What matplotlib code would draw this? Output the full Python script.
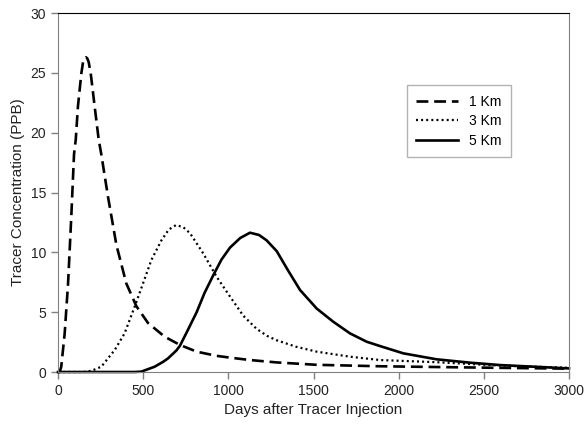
import numpy as np
import matplotlib
matplotlib.use('Agg')
import matplotlib.pyplot as plt

plt.rcParams['font.family'] = ['Liberation Sans', 'DejaVu Sans']

# 1 Km curve
days_1km = [0, 10, 19, 39, 59, 78, 94, 104, 117, 137, 147, 155, 164, 172, 180, 192, 215, 239,
            254, 294, 343, 401, 460, 528, 626, 716, 814, 931, 1010, 1127, 1284, 1519, 1890,
            2200, 2575, 3000]
conc_1km = [0, 0, 0.44, 3.2, 7.4, 13.0, 18.2, 19.4, 22.2, 24.96, 25.9, 26.2, 26.3, 26.2,
            25.9, 24.96, 22.2, 19.4, 18.2, 14.6, 10.6, 7.4, 5.5, 4.1, 2.95, 2.26, 1.7, 1.35,
            1.2, 1.0, 0.8, 0.6, 0.48, 0.42, 0.35, 0.28]

# 3 Km curve
days_3km = [0, 150, 196, 254, 333, 391, 450, 499, 548, 607, 650, 693, 735, 775, 853, 931,
            1010, 1088, 1166, 1230, 1284, 1400, 1519, 1714, 1890, 2223, 2575, 3000]
conc_3km = [0, 0, 0.1, 0.44, 1.84, 3.23, 5.46, 7.4, 9.36, 11.0, 11.9, 12.28, 12.1, 11.6,
            9.9, 7.96, 6.3, 4.7, 3.6, 3.0, 2.65, 2.1, 1.7, 1.28, 1.0, 0.82, 0.55, 0.35]

# 5 Km curve
days_5km = [0, 450, 489, 540, 567, 618, 646, 695, 716, 755, 814, 860, 912, 960, 1010, 1070,
            1127, 1180, 1225, 1284, 1350, 1421, 1519, 1616, 1714, 1812, 1890, 2027, 2223,
            2419, 2595, 3000]
conc_5km = [0, 0, 0.03, 0.3, 0.44, 0.86, 1.14, 1.8, 2.2, 3.3, 5.0, 6.6, 8.1, 9.4, 10.4,
            11.2, 11.64, 11.45, 11.0, 10.1, 8.5, 6.85, 5.3, 4.2, 3.23, 2.53, 2.17, 1.56,
            1.06, 0.78, 0.58, 0.3]

fig = plt.figure(figsize=(5.86, 4.25), dpi=100)
ax = fig.add_axes([0.099, 0.1247, 0.872, 0.8447])

ax.plot(days_1km, conc_1km, color='black', lw=1.9, dashes=(4.5, 2.2), label='1 Km', clip_on=False)
ax.plot(days_3km, conc_3km, color='black', lw=1.6, dashes=(0.9, 1.4), label='3 Km', clip_on=False)
ax.plot(days_5km, conc_5km, color='black', lw=1.9, label='5 Km', clip_on=False)

ax.set_xlim(0, 3000)
ax.set_ylim(0, 30)
ax.set_xticks(np.arange(0, 3001, 500))
ax.set_yticks(np.arange(0, 31, 5))
ax.tick_params(direction='out', length=5, width=1, color='#808080', labelsize=10,
               labelcolor='#222222')

for s in ['left', 'right', 'bottom']:
    ax.spines[s].set_color('#808080')
ax.spines['top'].set_color('black')

ax.set_xlabel('Days after Tracer Injection', fontsize=11, color='#222222')
ax.set_ylabel('Tracer Concentration (PPB)', fontsize=11, color='#222222')

leg = ax.legend(loc='upper left', bbox_to_anchor=(0.682, 0.80), frameon=True, fancybox=False,
                fontsize=10, handlelength=3.0, borderpad=0.7, labelspacing=0.4,
                handletextpad=0.8, borderaxespad=0)
leg.get_frame().set_edgecolor('#a0a0a0')
leg.get_frame().set_linewidth(1)

plt.savefig('out.png', dpi=100)
